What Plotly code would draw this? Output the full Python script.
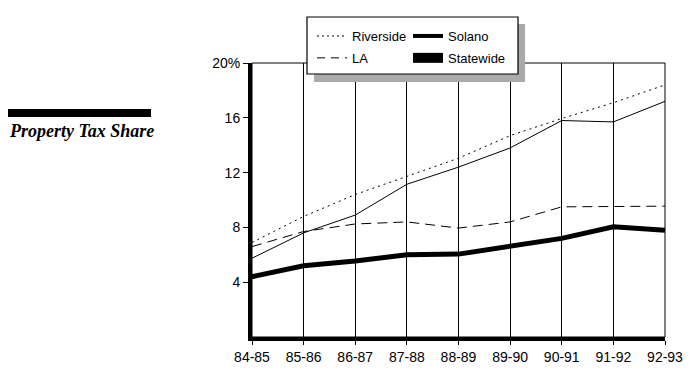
import plotly.graph_objects as go

years = ["84-85", "85-86", "86-87", "87-88", "88-89", "89-90", "90-91", "91-92", "92-93"]
riverside = [6.9, 8.8, 10.4, 11.7, 13.05, 14.7, 15.95, 17.1, 18.4]
solano = [5.75, 7.6, 8.9, 11.15, 12.4, 13.8, 15.8, 15.7, 17.2]
la = [6.6, 7.7, 8.25, 8.4, 7.95, 8.4, 9.5, 9.55, 9.55]
statewide = [4.4, 5.2, 5.55, 6.0, 6.05, 6.65, 7.2, 8.05, 7.8]
y_ticks = [4, 8, 12, 16, 20]
y_ticktext = ["4", "8", "12", "16", "20%"]

# page body has an 8px margin; work in window pixels and shift
OFF = 8
W, H = 694 - OFF, 379 - OFF
L, R, T, B = 252 - OFF, 665 - OFF, 63 - OFF, 337 - OFF


def px(x):
    return (x - OFF - L) / (R - L)


def py(y):
    return (B - (y - OFF)) / (B - T)


fig = go.Figure()
# plotted lines
fig.add_trace(go.Scatter(x=years, y=riverside, mode="lines", showlegend=False,
                         line=dict(color="black", width=1, dash="2px,4px")))
fig.add_trace(go.Scatter(x=years, y=solano, mode="lines", showlegend=False,
                         line=dict(color="black", width=1)))
fig.add_trace(go.Scatter(x=years, y=la, mode="lines", showlegend=False,
                         line=dict(color="black", width=1, dash="10px,6px")))
fig.add_trace(go.Scatter(x=years, y=statewide, mode="lines", showlegend=False,
                         line=dict(color="black", width=5)))
# legend entries
fig.add_trace(go.Scatter(x=[None], y=[None], mode="lines", name="Riverside", legend="legend",
                         legendgroup="g1", line=dict(color="black", width=1, dash="2px,3px")))
fig.add_trace(go.Scatter(x=[None], y=[None], mode="lines", name="LA", legend="legend",
                         legendgroup="g2", line=dict(color="black", width=1, dash="8px,6px")))
fig.add_trace(go.Scatter(x=[None], y=[None], mode="lines", name="Solano", legend="legend2",
                         legendgroup="g3", line=dict(color="black", width=4)))
fig.add_trace(go.Scatter(x=[None], y=[None], mode="lines", name="Statewide", legend="legend2",
                         legendgroup="g4", line=dict(color="black", width=12)))

font = dict(family="Liberation Sans, Arial, sans-serif", size=14, color="black")
lfont = dict(family="Liberation Sans, Arial, sans-serif", size=13, color="black")

shapes = [
    # plot frame (top/right)
    dict(type="rect", xref="paper", yref="paper", x0=0, x1=1, y0=0, y1=1,
         line=dict(color="black", width=1), layer="below"),
    # legend shadow
    dict(type="rect", xref="paper", yref="paper",
         x0=px(314), x1=px(525), y0=py(82), y1=py(24),
         fillcolor="#aaaaaa", line=dict(width=0), layer="above"),
    # legend box
    dict(type="rect", xref="paper", yref="paper",
         x0=px(307), x1=px(518), y0=py(74), y1=py(17),
         fillcolor="white", line=dict(color="black", width=1.2), layer="above"),
    # left label bar
    dict(type="rect", xref="paper", yref="paper",
         x0=px(7), x1=px(151), y0=py(117), y1=py(109),
         fillcolor="black", line=dict(width=0), layer="above"),
]

fig.update_layout(
    width=W, height=H,
    margin=dict(l=L, r=W - R, t=T, b=H - B),
    paper_bgcolor="white", plot_bgcolor="white",
    font=font,
    shapes=shapes,
    xaxis=dict(type="category", range=[0, 8], showgrid=True, gridcolor="black", gridwidth=1,
               showline=True, linecolor="black", linewidth=4, ticks="outside", ticklen=4,
               tickcolor="black", tickfont=font, zeroline=False, fixedrange=True),
    yaxis=dict(range=[0, 20], tickvals=y_ticks, ticktext=y_ticktext, showgrid=False,
               showline=True, linecolor="black", linewidth=4, ticks="outside", ticklen=5,
               tickcolor="black", tickfont=font, zeroline=False, fixedrange=True),
    legend=dict(x=px(312), y=py(21), xanchor="left", yanchor="top", bgcolor="rgba(0,0,0,0)",
                borderwidth=0, font=lfont, tracegroupgap=2),
    legend2=dict(x=px(408), y=py(21), xanchor="left", yanchor="top", bgcolor="rgba(0,0,0,0)",
                 borderwidth=0, font=lfont, tracegroupgap=2),
    annotations=[dict(text="<b><i>Property Tax Share</i></b>", xref="paper", yref="paper",
                      x=px(7), y=py(131), xanchor="left", yanchor="middle", showarrow=False,
                      font=dict(family="Liberation Serif, Times New Roman, serif", size=18,
                                color="black"))],
)

fig.write_html("out.html")
